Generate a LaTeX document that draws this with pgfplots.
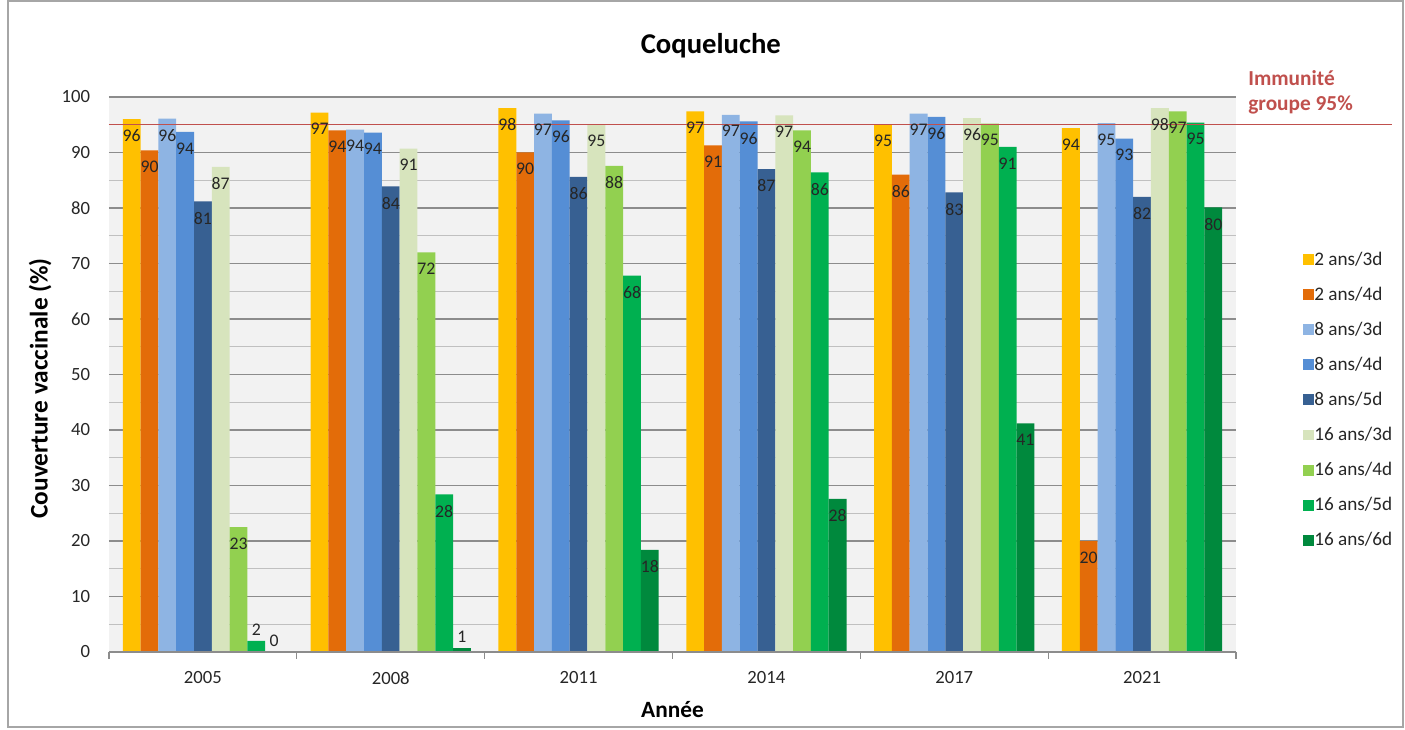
\documentclass[border=0pt]{standalone}
\usepackage{pgfplots}
\pgfplotsset{compat=1.18}
\usetikzlibrary{calc}
\usepackage{fontspec}
\setmainfont{Carlito}
\definecolor{cA}{HTML}{FFC000}
\definecolor{cB}{HTML}{E36C09}
\definecolor{cC}{HTML}{8EB4E3}
\definecolor{cD}{HTML}{558ED5}
\definecolor{cE}{HTML}{376092}
\definecolor{cF}{HTML}{D7E4BD}
\definecolor{cG}{HTML}{92D050}
\definecolor{cH}{HTML}{00B050}
\definecolor{cI}{HTML}{00893D}
\definecolor{bgc}{HTML}{F2F2F2}
\definecolor{majg}{HTML}{8C8C8C}
\definecolor{ming}{HTML}{C0C0C0}
\definecolor{immred}{HTML}{C0504D}
\definecolor{txt}{HTML}{262626}
\begin{document}
\begin{tikzpicture}
\begin{axis}[
  name=ax,
  scale only axis,
  width=845.25pt, height=416.25pt,
  xmin=-0.5, xmax=5.5, ymin=0, ymax=100,
  ybar=0pt, bar width=0.0948,
  clip=false,
  axis background/.style={fill=bgc},
  axis line style={draw=none},
  xtick={0,1,2,3,4,5},
  xticklabels={2005,2008,2011,2014,2017,2021},
  minor xtick={-0.5,0.5,1.5,2.5,3.5,4.5,5.5},
  ytick={0,10,...,100},
  minor ytick={5,15,...,95},
  ymajorgrids, yminorgrids,
  major grid style={majg, line width=0.9pt},
  minor grid style={ming, line width=0.9pt},
  major tick length=0pt,
  minor tick length=5pt,
  tick align=outside,
  ytick style={draw=none},
  minor y tick style={draw=none},
  minor x tick style={draw=majg, line width=0.9pt},
  xtick pos=bottom,
  /pgf/number format/assume math mode=true,
  tick label style={font=\fontsize{14}{16}\selectfont, text=txt},
  yticklabel style={anchor=east, inner sep=0pt, xshift=-14pt},
  xticklabel style={anchor=center, inner sep=0pt, yshift=-19.5pt},
  xlabel={Année},
  ylabel={Couverture vaccinale (\%)},
  xlabel style={at={(axis description cs:0.5,-0.1045)}, anchor=center, font=\bfseries\fontsize{17.5}{20}\selectfont},
  ylabel style={at={(axis description cs:-0.0612,0.475)}, anchor=center, font=\bfseries\fontsize{19}{22}\selectfont},
  visualization depends on={y \as \rawy},
  nodes near coords={\pgfmathprintnumber[fixed,precision=0]{\pgfplotspointmeta}},
  every node near coord/.append style={font=\fontsize{13.3}{15}\selectfont, text=txt, inner sep=0.8pt, anchor=north,
    yshift={(\rawy<5)?13.5:-7}},
  legend style={at={(1.056,0.726)}, anchor=north west, draw=none, fill=none,
    font=\fontsize{14.4}{16}\selectfont, text=txt, row sep=14.8pt,
    nodes={inner sep=0pt}},
  legend cell align=left,
  legend image code/.code={\fill[#1] (0pt,-4.1pt) rectangle (8.2pt,4.1pt);},
  every axis legend/.append style={/tikz/every even column/.append style={column sep=4.5pt}},
]
\addplot[fill=cA, draw=none] coordinates {(0,96.0) (1,97.2) (2,98.0) (3,97.4) (4,95.0) (5,94.4)};
\addplot[fill=cB, draw=none] coordinates {(0,90.4) (1,94.0) (2,90.0) (3,91.3) (4,86.0) (5,20.0)};
\addplot[fill=cC, draw=none] coordinates {(0,96.1) (1,94.1) (2,97.0) (3,96.8) (4,97.0) (5,95.3)};
\addplot[fill=cD, draw=none] coordinates {(0,93.7) (1,93.6) (2,95.8) (3,95.6) (4,96.4) (5,92.5)};
\addplot[fill=cE, draw=none] coordinates {(0,81.2) (1,83.9) (2,85.6) (3,87.0) (4,82.8) (5,82.0)};
\addplot[fill=cF, draw=none] coordinates {(0,87.4) (1,90.7) (2,95.0) (3,96.7) (4,96.2) (5,98.0)};
\addplot[fill=cG, draw=none] coordinates {(0,22.5) (1,72.0) (2,87.6) (3,94.0) (4,95.2) (5,97.4)};
\addplot[fill=cH, draw=none] coordinates {(0,2.0) (1,28.4) (2,67.8) (3,86.4) (4,91.0) (5,95.4)};
\addplot[fill=cI, draw=none] coordinates {(0,0.0) (1,0.7) (2,18.4) (3,27.6) (4,41.2) (5,80.1)};
\legend{2 ans/3d,2 ans/4d,8 ans/3d,8 ans/4d,8 ans/5d,16 ans/3d,16 ans/4d,16 ans/5d,16 ans/6d}
\draw[majg, line width=0.9pt] (rel axis cs:0,0) -- (rel axis cs:1,0);
\draw[immred, line width=1.1pt] (axis cs:-0.5,95) -- (axis cs:6.33,95);
\node[font=\bfseries\fontsize{21.5}{25}\selectfont, text=black] at (rel axis cs:0.534,1.092) {Coqueluche};
\node[font=\bfseries\fontsize{16}{18.75}\selectfont, text=immred, anchor=west, align=left, inner sep=0pt] at (rel axis cs:1.0107,1.008) {Immunité\\groupe 95\%};
\end{axis}
\pgfresetboundingbox
\draw[gray!70, line width=0.8pt] ($(ax.south west)+(-75.75pt,-56.25pt)$) rectangle ($(ax.south west)+(970.5pt,488.25pt)$);
\path[use as bounding box] ($(ax.south west)+(-81.75pt,-57.75pt)$) rectangle ($(ax.south west)+(972pt,489pt)$);
\end{tikzpicture}
\end{document}
